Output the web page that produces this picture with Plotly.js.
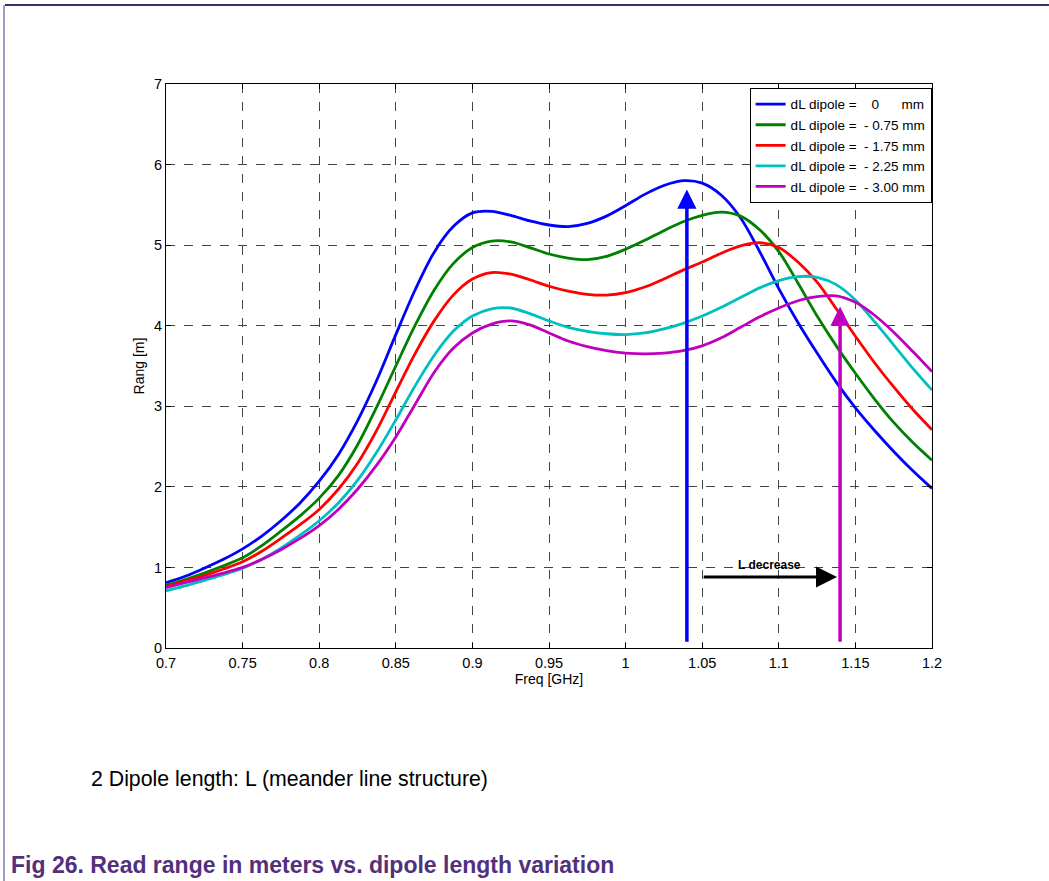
<!DOCTYPE html>
<html>
<head>
<meta charset="utf-8">
<script src="https://cdn.plot.ly/plotly-3.0.1.min.js"></script>
<style>
html,body{margin:0;padding:0;background:#fff;}
#chart{width:1049px;height:881px;}
</style>
</head>
<body>
<div id="chart"></div>
<script>
// Frequency in GHz
var freq = [0.70, 0.7125, 0.725, 0.7375, 0.75, 0.7625, 0.775, 0.7875, 0.80, 0.8125, 0.825, 0.8375, 0.85, 0.8625, 0.875, 0.8875,
            0.90, 0.9125, 0.925, 0.9375, 0.95, 0.9625, 0.975, 0.9875, 1.00, 1.0125, 1.025, 1.0375, 1.05, 1.0625, 1.075, 1.0875,
            1.10, 1.1125, 1.125, 1.1375, 1.15, 1.1625, 1.175, 1.1875, 1.20];

// Read range [m] for each dipole length variation
var range0   = [0.81, 0.89, 0.99, 1.10, 1.23, 1.39, 1.58, 1.80, 2.07, 2.40, 2.82, 3.32, 3.89, 4.44, 4.91, 5.23,
                5.40, 5.42, 5.37, 5.30, 5.25, 5.23, 5.27, 5.36, 5.49, 5.63, 5.74, 5.80, 5.77, 5.62, 5.34, 4.92,
                4.46, 4.04, 3.66, 3.30, 2.98, 2.70, 2.44, 2.20, 1.98];
var range075 = [0.78, 0.85, 0.93, 1.02, 1.12, 1.27, 1.45, 1.64, 1.86, 2.14, 2.52, 2.99, 3.50, 4.00, 4.44, 4.77,
                4.97, 5.05, 5.04, 4.97, 4.89, 4.84, 4.82, 4.86, 4.95, 5.06, 5.18, 5.29, 5.37, 5.41, 5.36, 5.19,
                4.92, 4.53, 4.12, 3.75, 3.41, 3.09, 2.80, 2.55, 2.33];
var range175 = [0.76, 0.83, 0.90, 0.98, 1.07, 1.20, 1.36, 1.53, 1.72, 1.97, 2.29, 2.70, 3.18, 3.65, 4.06, 4.38,
                4.58, 4.66, 4.64, 4.57, 4.49, 4.43, 4.39, 4.38, 4.41, 4.48, 4.58, 4.69, 4.79, 4.90, 4.99, 5.03,
                4.97, 4.79, 4.54, 4.21, 3.87, 3.54, 3.24, 2.96, 2.71];
var range225 = [0.71, 0.77, 0.84, 0.91, 0.99, 1.10, 1.24, 1.40, 1.58, 1.80, 2.08, 2.43, 2.83, 3.25, 3.63, 3.93,
                4.12, 4.21, 4.22, 4.15, 4.06, 3.98, 3.93, 3.90, 3.89, 3.91, 3.96, 4.03, 4.12, 4.23, 4.35, 4.47,
                4.56, 4.61, 4.60, 4.51, 4.32, 4.05, 3.76, 3.47, 3.20];
var range300 = [0.75, 0.81, 0.87, 0.93, 1.00, 1.10, 1.22, 1.36, 1.52, 1.72, 1.97, 2.27, 2.62, 3.02, 3.42, 3.72,
                3.91, 4.02, 4.06, 4.01, 3.91, 3.81, 3.74, 3.69, 3.66, 3.65, 3.66, 3.69, 3.75, 3.85, 3.98, 4.11,
                4.22, 4.31, 4.36, 4.37, 4.29, 4.13, 3.92, 3.68, 3.43];

var seriesNames = [
  "dL dipole =\u00a0\u00a0\u00a0\u00a00\u00a0\u00a0\u00a0\u00a0\u00a0\u00a0mm",
  "dL dipole =\u00a0\u00a0- 0.75 mm",
  "dL dipole =\u00a0\u00a0- 1.75 mm",
  "dL dipole =\u00a0\u00a0- 2.25 mm",
  "dL dipole =\u00a0\u00a0- 3.00 mm"
];
var seriesColors = ["#0000ff", "#008000", "#ff0000", "#00bfbf", "#bf00bf"];

// Tick values / labels
var xTicks = [0.7, 0.75, 0.8, 0.85, 0.9, 0.95, 1.0, 1.05, 1.1, 1.15, 1.2];
var xTickLabels = ["0.7", "0.75", "0.8", "0.85", "0.9", "0.95", "1", "1.05", "1.1", "1.15", "1.2"];
var yTicks = [0, 1, 2, 3, 4, 5, 6, 7];

// Resonance arrows (x position, tip, base) and shift arrow
var arrowX = [1.04, 1.14];
var arrowTip = [5.69, 4.24];
var arrowBase = [0.06, 0.06];
var arrowColors = ["#0000ff", "#bf00bf"];
var shiftFrom = [1.05, 0.88];
var shiftTo = [1.138, 0.88];
var shiftLabel = "L decrease";
var shiftLabelPos = [1.094, 1.03];

var data = [range0, range075, range175, range225, range300];
var traces = data.map(function (ys, i) {
  return {
    x: freq, y: ys, type: "scatter", mode: "lines",
    name: seriesNames[i],
    line: {color: seriesColors[i], width: 2.8, shape: "spline", smoothing: 0.9}
  };
});

var FONT = "Liberation Sans, Arial, sans-serif";
var annotations = [];
arrowX.forEach(function (ax, i) {
  annotations.push({
    x: ax, y: arrowTip[i], xref: "x", yref: "y",
    ax: ax, ay: arrowBase[i], axref: "x", ayref: "y",
    text: "", showarrow: true, arrowhead: 2, arrowsize: 1.1,
    arrowwidth: 3.5, arrowcolor: arrowColors[i], standoff: 0, startstandoff: 0
  });
});
annotations.push({
  x: shiftTo[0], y: shiftTo[1], xref: "x", yref: "y",
  ax: shiftFrom[0], ay: shiftFrom[1], axref: "x", ayref: "y",
  text: "", showarrow: true, arrowhead: 2, arrowsize: 1.4,
  arrowwidth: 3, arrowcolor: "#000000", standoff: 0
});
annotations.push({
  x: shiftLabelPos[0], y: shiftLabelPos[1], xref: "x", yref: "y",
  text: "<b>" + shiftLabel + "</b>", showarrow: false,
  font: {size: 12, color: "#000", family: FONT}
});
// Page text
annotations.push({
  x: -0.1005, y: -0.2323, xref: "paper", yref: "paper",
  xanchor: "left", yanchor: "middle", showarrow: false,
  text: "2 Dipole length: L (meander line structure)",
  font: {size: 21.3, color: "#000", family: FONT}
});
annotations.push({
  x: -0.2050, y: -0.3848, xref: "paper", yref: "paper",
  xanchor: "left", yanchor: "middle", showarrow: false,
  text: "<b>Fig 26. Read range in meters vs. dipole length variation</b>",
  font: {size: 23, color: "#52307c", family: FONT}
});

var shapes = [
  {type: "line", xref: "paper", yref: "paper", x0: -0.2102, x1: 1.1527, y0: 1.1401, y1: 1.1401,
   line: {color: "#3f2a6b", width: 2}},
  {type: "line", xref: "paper", yref: "paper", x0: -0.2115, x1: -0.2115, y0: 1.1401, y1: -0.4131,
   line: {color: "#52307c", width: 1}}
];

var axisCommon = {
  showline: true, linecolor: "#000", linewidth: 1, mirror: "ticks",
  ticks: "inside", ticklen: 5, tickcolor: "#000", tickwidth: 1,
  showgrid: true, gridcolor: "#444", griddash: "dash", gridwidth: 1,
  zeroline: false, tickfont: {size: 14.5, color: "#000", family: FONT}
};

var layout = {
  width: 1049, height: 881,
  margin: {l: 166, r: 117, t: 84, b: 233},
  paper_bgcolor: "#fff", plot_bgcolor: "#fff",
  font: {family: FONT, size: 14, color: "#000"},
  showlegend: true,
  legend: {
    x: 0.9995, y: 0.993, xanchor: "right", yanchor: "top",
    bgcolor: "#fff", bordercolor: "#000", borderwidth: 1,
    font: {size: 13.5, color: "#000", family: FONT}, tracegroupgap: 0, itemwidth: 30
  },
  xaxis: Object.assign({}, axisCommon, {
    range: [0.7, 1.2], tickvals: xTicks, ticktext: xTickLabels, ticklabelstandoff: 2,
    title: {text: "Freq [GHz]", font: {size: 14, family: FONT}, standoff: 2}
  }),
  yaxis: Object.assign({}, axisCommon, {
    range: [0, 7], tickvals: yTicks,
    title: {text: "Rang [m]", font: {size: 14, family: FONT}, standoff: 6}
  }),
  annotations: annotations,
  shapes: shapes
};

Plotly.newPlot("chart", traces, layout, {displayModeBar: false, staticPlot: true});
</script>
</body>
</html>
